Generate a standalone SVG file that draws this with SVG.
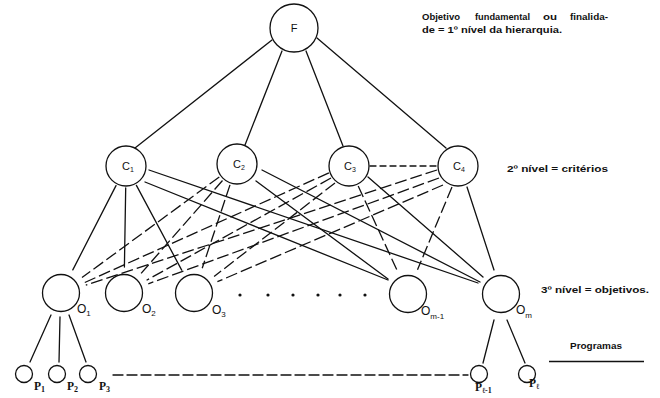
<svg xmlns="http://www.w3.org/2000/svg" width="660" height="398" viewBox="0 0 660 398">
<style>
.n{fill:#fff;stroke:#111;stroke-width:1.3}
.l{stroke:#111;stroke-width:1.3;fill:none;stroke-linecap:round}
.d{stroke-dasharray:12 4;stroke-linecap:butt}
.t{font-family:"Liberation Sans",Arial,sans-serif;fill:#111}
.s{font-family:"Liberation Serif","Times New Roman",serif;font-weight:bold;fill:#111}
.b{font-family:"Liberation Sans",Arial,sans-serif;font-weight:bold;font-size:9.5px;fill:#111}
</style>
<rect width="660" height="398" fill="#fff"/>
<g id="connectors">
<line class="l" x1="272" y1="40" x2="135" y2="148"/>
<line class="l" x1="282" y1="51" x2="245" y2="145"/>
<line class="l" x1="306" y1="51" x2="343" y2="146"/>
<line class="l" x1="317" y1="38" x2="446" y2="148"/>
<line class="l" x1="116" y1="185.6" x2="72.8" y2="269.9"/>
<line class="l" x1="125.7" y1="188" x2="124.4" y2="267"/>
<line class="l" x1="136.4" y1="185.4" x2="181.7" y2="270.1"/>
<line class="l" x1="145" y1="182" x2="388" y2="280"/>
<line class="l" x1="149" y1="170" x2="478" y2="283"/>
<line class="l d" x1="219.3" y1="177" x2="82" y2="277.6"/>
<line class="l d" x1="222.5" y1="180.5" x2="141.1" y2="273.4"/>
<line class="l d" x1="230" y1="184.9" x2="202.2" y2="268.3"/>
<line class="l" x1="256" y1="181" x2="388" y2="279"/>
<line class="l" x1="262" y1="170" x2="480" y2="282"/>
<line class="l d" x1="328.9" y1="172.9" x2="84.8" y2="282.5"/>
<line class="l d" x1="331" y1="178" x2="146.6" y2="280.2"/>
<line class="l d" x1="335" y1="183" x2="214.1" y2="276.5"/>
<line class="l d" x1="358.2" y1="186" x2="397.1" y2="270.4"/>
<line class="l" x1="368" y1="177" x2="483" y2="277"/>
<line class="l d" x1="437" y1="170" x2="85.8" y2="285.1"/>
<line class="l d" x1="439" y1="178" x2="148.3" y2="283.8"/>
<line class="l d" x1="443" y1="185" x2="217.4" y2="281.7"/>
<line class="l d" x1="452" y1="187" x2="417.5" y2="269.8"/>
<line class="l" x1="467" y1="187" x2="494" y2="270"/>
<line class="l" x1="370" y1="166" x2="437" y2="166" stroke-dasharray="6 4"/>
<line class="l" x1="51" y1="315" x2="30" y2="362"/>
<line class="l" x1="60" y1="317" x2="59" y2="362"/>
<line class="l" x1="69" y1="315" x2="86" y2="362"/>
<line class="l" x1="494" y1="320" x2="483" y2="363"/>
<line class="l" x1="507" y1="320" x2="525" y2="363"/>
<line class="l" x1="113" y1="375" x2="468" y2="375" stroke-dasharray="10 4"/>
</g>
<g id="F"><circle class="n" cx="294" cy="28" r="24"/><text class="t" x="294" y="32" font-size="11" text-anchor="middle">F</text></g>
<g id="C1"><circle class="n" cx="126" cy="166" r="20"/><text class="t" x="122" y="170" font-size="11">C<tspan font-size="7" dy="2">1</tspan></text></g>
<g id="C2"><circle class="n" cx="237" cy="164" r="20"/><text class="t" x="233" y="168" font-size="11">C<tspan font-size="7" dy="2">2</tspan></text></g>
<g id="C3"><circle class="n" cx="349" cy="166" r="20"/><text class="t" x="344" y="170" font-size="11">C<tspan font-size="7" dy="2">3</tspan></text></g>
<g id="C4"><circle class="n" cx="458" cy="166" r="20"/><text class="t" x="453" y="170" font-size="11">C<tspan font-size="7" dy="2">4</tspan></text></g>
<g id="O1"><circle class="n" cx="61" cy="293" r="18.5"/><text class="t" x="77" y="313" font-size="12">O<tspan font-size="8" dy="3">1</tspan></text></g>
<g id="O2"><circle class="n" cx="124" cy="293" r="18.5"/><text class="t" x="142" y="313" font-size="12">O<tspan font-size="8" dy="3">2</tspan></text></g>
<g id="O3"><circle class="n" cx="194" cy="293" r="18.5"/><text class="t" x="212" y="314" font-size="12">O<tspan font-size="8" dy="3">3</tspan></text></g>
<g id="dots" fill="#111"><circle cx="240" cy="295" r="1.6"/><circle cx="268" cy="295" r="1.6"/><circle cx="293" cy="295" r="1.6"/><circle cx="318" cy="295" r="1.6"/><circle cx="340" cy="295" r="1.6"/><circle cx="365" cy="295" r="1.6"/></g>
<g id="Om-1"><circle class="n" cx="408" cy="294" r="18.5"/><text class="t" x="421" y="315" font-size="12">O<tspan font-size="8" dy="4">m-1</tspan></text></g>
<g id="Om"><circle class="n" cx="501" cy="294" r="18.5"/><text class="t" x="516" y="314" font-size="12">O<tspan font-size="8" dy="4">m</tspan></text></g>
<g id="P1"><circle class="n" cx="24" cy="374" r="8.5"/><text class="s" x="34" y="390" font-size="11.5">P<tspan font-size="8" dy="2">1</tspan></text></g>
<g id="P2"><circle class="n" cx="57" cy="374" r="8.5"/><text class="s" x="67" y="390" font-size="11.5">P<tspan font-size="8" dy="2">2</tspan></text></g>
<g id="P3"><circle class="n" cx="88" cy="374" r="8.5"/><text class="s" x="99" y="390" font-size="11.5">P<tspan font-size="8" dy="2">3</tspan></text></g>
<g id="Pl-1"><circle class="n" cx="479" cy="374" r="8.5"/><text class="s" x="475" y="391" font-size="11.5">P<tspan font-size="8" dy="2">ℓ-1</tspan></text></g>
<g id="Pl"><circle class="n" cx="527" cy="374" r="8.5"/><text class="s" x="529" y="387" font-size="11.5">P<tspan font-size="8" dy="2">ℓ</tspan></text></g>
<g id="notes">
<text class="b" y="20"><tspan x="422" textLength="38" lengthAdjust="spacingAndGlyphs">Objetivo</tspan> <tspan x="475" textLength="55" lengthAdjust="spacingAndGlyphs">fundamental</tspan> <tspan x="543" textLength="14" lengthAdjust="spacingAndGlyphs">ou</tspan> <tspan x="570" textLength="38" lengthAdjust="spacingAndGlyphs">finalida-</tspan></text>
<text class="b" x="422" y="33" textLength="140" lengthAdjust="spacingAndGlyphs">de = 1º nível da hierarquia.</text>
<text class="b" x="507" y="172" textLength="101" lengthAdjust="spacingAndGlyphs">2º nível = critérios</text>
<text class="b" x="541" y="293" textLength="108" lengthAdjust="spacingAndGlyphs">3º nível = objetivos.</text>
<text class="b" x="570" y="349" textLength="52" lengthAdjust="spacingAndGlyphs">Programas</text>
<line x1="549" y1="361.5" x2="644" y2="361.5" stroke="#111" stroke-width="1.5"/>
</g>
</svg>
